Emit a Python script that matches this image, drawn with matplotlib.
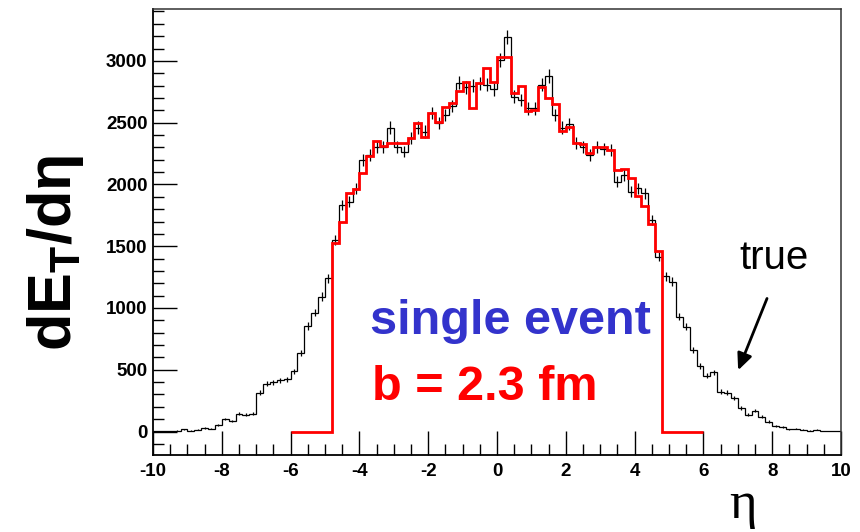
import numpy as np
import matplotlib
matplotlib.use("Agg")
import matplotlib.pyplot as plt
from matplotlib.ticker import MultipleLocator

plt.rcParams['font.family'] = ['Liberation Sans', 'DejaVu Sans']
plt.rcParams['axes.unicode_minus'] = False
plt.rcParams['mathtext.fontset'] = 'custom'
plt.rcParams['mathtext.rm'] = 'Liberation Sans:bold'
plt.rcParams['mathtext.bf'] = 'Liberation Sans:bold'
plt.rcParams['mathtext.it'] = 'Liberation Sans:bold'

# ---- data ----
eta_min, eta_max, n_bins = -10.0, 10.0, 100          # black ("true") histogram binning
true_values = [
    5, 5, 5, 8, 20, 8, 15, 30, 22, 50, 100, 85, 143, 135, 143, 316, 386, 397, 415, 424,
    486, 634, 855, 963, 1093, 1241,
    1551, 1835, 1861, 1965, 2199, 2239, 2306, 2306, 2460, 2306, 2266, 2374, 2460, 2428,
    2577, 2496, 2563, 2636, 2824, 2787, 2798, 2819, 2806, 2771,
    3008, 3192, 2711, 2684, 2617, 2617, 2806, 2878, 2563, 2460, 2490, 2334, 2306, 2239,
    2306, 2285, 2280, 2023, 2077, 1942, 1969, 1929, 1713, 1416,
    1257, 1214, 930, 850, 661, 532, 451, 478, 324, 316, 270, 189, 135, 170, 121, 81,
    46, 35, 19, 22, 13, 8, 13, 5, 5, 5,
]
reco_min, reco_max, reco_bins = -6.0, 6.0, 60        # red (reconstructed) histogram binning
reco_values = [0] * 6 + [
    1525, 1700, 1929, 1964, 2096, 2234, 2352, 2312, 2334, 2334, 2334, 2374, 2496, 2387,
    2577, 2509, 2625, 2663, 2760, 2832, 2617, 2819, 2941, 2832,
    3035, 3035, 2743, 2798, 2595, 2604, 2787, 2698, 2652, 2436, 2463, 2334, 2328, 2253,
    2301, 2301, 2280, 2118, 2123, 2050, 1907, 1826, 1681, 1465,
] + [0] * 6
x_ticks = [-10, -8, -6, -4, -2, 0, 2, 4, 6, 8, 10]
y_ticks = [0, 500, 1000, 1500, 2000, 2500, 3000]

# ---- figure ----
fig = plt.figure(figsize=(8.6, 5.32), dpi=100)
ax = fig.add_axes([0.1779, 0.1447, 0.8, 0.8384])

true_arr = np.array(true_values, dtype=float)
edges = np.linspace(eta_min, eta_max, n_bins + 1)
centers = 0.5 * (edges[:-1] + edges[1:])
ax.stairs(true_arr, edges, baseline=None, color='black', lw=0.9)
# Poisson-style error bars as drawn by ROOT
ax.errorbar(centers, true_arr, yerr=np.sqrt(true_arr), fmt='none', ecolor='black', elinewidth=0.9)

redges = np.linspace(reco_min, reco_max, reco_bins + 1)
ax.stairs(np.array(reco_values, dtype=float), redges, baseline=None, color='#ff0000', lw=2.0, zorder=5)

ax.set_xlim(-10, 10)
ax.set_ylim(-190, 3420)
ax.set_xticks(x_ticks)
ax.set_yticks(y_ticks)
ax.xaxis.set_minor_locator(MultipleLocator(0.5))
ax.yaxis.set_minor_locator(MultipleLocator(100))
ax.tick_params(axis='both', which='both', direction='in', top=False, right=False)
ax.tick_params(axis='both', which='major', length=17, width=1.0, labelsize=13.5)
ax.tick_params(axis='both', which='minor', length=8, width=1.0)
ax.tick_params(axis='x', which='major', pad=6)
ax.tick_params(axis='y', which='major', pad=4)
for lab in ax.get_xticklabels() + ax.get_yticklabels():
    lab.set_fontweight('bold')
for s in ['left', 'bottom']:
    ax.spines[s].set_linewidth(1.3)
for s in ['top', 'right']:
    ax.spines[s].set_linewidth(1.1)
    ax.spines[s].set_color('#333333')

# texts
ax.text(-3.69, 887, 'single event', color='#3333cc', fontsize=35, fontweight='bold',
        ha='left', va='center')
ax.text(-3.64, 353, 'b = 2.3 fm', color='#ff0000', fontsize=35, fontweight='bold',
        ha='left', va='center')
ax.text(7.06, 1406, 'true', color='black', fontsize=29, ha='left', va='center')
ax.annotate('', xy=(6.98, 475), xytext=(7.88, 1098),
            arrowprops=dict(arrowstyle='-|>,head_length=1.0,head_width=0.45', color='black', lw=2))

fig.text(0.064, 0.525, r'dE$_\mathrm{T}$/dη', rotation=90, fontsize=44, fontweight='bold',
         ha='center', va='center')
fig.text(0.864, 0.05, 'η', family=['Liberation Serif'], fontsize=38, ha='center', va='center')

fig.savefig('out.png', dpi=100)
